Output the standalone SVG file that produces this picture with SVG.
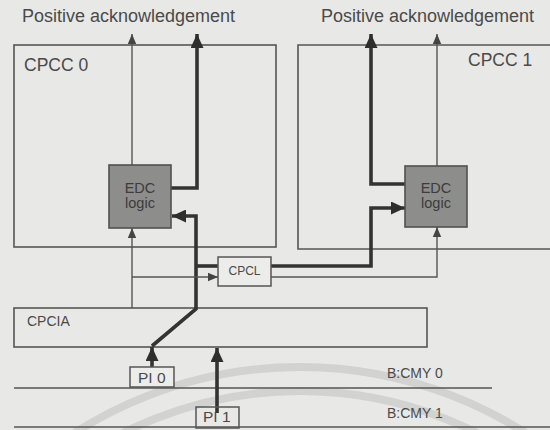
<svg xmlns="http://www.w3.org/2000/svg" width="550" height="430" viewBox="0 0 550 430">
  <style>
    .bg { fill: #e8e8e6; }
    .wm { fill: none; stroke: #d2d2d0; stroke-width: 8; }
    .box { fill: none; stroke: #555; stroke-width: 1.6; }
    .small { fill: #ececea; stroke: #555; stroke-width: 1.5; }
    .edc { fill: #8d8d8b; stroke: #505050; stroke-width: 1.6; }
    .bus { fill: none; stroke: #555; stroke-width: 1.6; }
    .thin { fill: none; stroke: #555; stroke-width: 1.4; }
    .thick { fill: none; stroke: #333; stroke-width: 3.6; }
    text { font-family: "Liberation Sans", Arial, sans-serif; fill: #4a4a4a; }
    .ack { font-size: 18px; }
    .cc { font-size: 17.5px; }
    .lbl { font-size: 14px; }
    .cpcl { font-size: 12px; text-anchor: middle; }
    .pi { font-size: 15.5px; }
    .edct { font-size: 14.5px; fill: #3c3c3c; text-anchor: middle; }
  </style>
  <defs>
    <marker id="ah-thin" markerUnits="userSpaceOnUse" markerWidth="10" markerHeight="10" viewBox="0 0 10 10" refX="10" refY="5" orient="auto">
      <path d="M0,0.8 L10,5 L0,9.2 Z" fill="#444"/>
    </marker>
    <marker id="ah-thick" markerUnits="userSpaceOnUse" markerWidth="14" markerHeight="13" viewBox="0 0 14 13" refX="14" refY="6.5" orient="auto">
      <path d="M0,0 L14,6.5 L0,13 Z" fill="#2e2e2e"/>
    </marker>
  </defs>

  <rect class="bg" x="0" y="0" width="550" height="430"/>

  <!-- faint background arcs -->
  <g id="arcs">
    <circle class="wm" cx="300" cy="785" r="418"/>
    <circle class="wm" cx="300" cy="785" r="394"/>
  </g>

  <text class="ack" x="22" y="22">Positive acknowledgement</text>
  <text class="ack" x="321" y="22">Positive acknowledgement</text>

  <g id="cpcc0">
    <rect class="box" x="14" y="45" width="262" height="202"/>
    <text class="cc" x="24" y="71">CPCC 0</text>
  </g>

  <g id="cpcc1">
    <path class="box" d="M560,45 H298 V249 H560"/>
    <text class="cc" x="468" y="66">CPCC 1</text>
  </g>

  <g id="cpcia">
    <rect class="box" x="14" y="308" width="413" height="39"/>
    <text class="lbl" x="27" y="326">CPCIA</text>
  </g>

  <g id="bus0">
    <line class="bus" x1="14" y1="388" x2="492" y2="388"/>
    <text class="lbl" x="387" y="378">B:CMY 0</text>
  </g>

  <g id="bus1">
    <line class="bus" x1="14" y1="427" x2="550" y2="427"/>
    <text class="lbl" x="387" y="418">B:CMY 1</text>
  </g>

  <g id="connectors">
    <!-- CPCC 0 outputs -->
    <path class="thin" d="M132,165 V34" marker-end="url(#ah-thin)"/>
    <path class="thick" d="M171,188 H197 V34" marker-end="url(#ah-thick)"/>
    <!-- CPCC 1 outputs -->
    <path class="thick" d="M405,184 H371 V34" marker-end="url(#ah-thick)"/>
    <path class="thin" d="M437,166 V34" marker-end="url(#ah-thin)"/>
    <!-- thick path from PI 0 through CPCIA -->
    <path class="thick" d="M152,346 L196,309 V216 H172" marker-end="url(#ah-thick)"/>
    <path class="thick" d="M196,266 H218"/>
    <path class="thick" d="M271,266 H371 V208 H405" marker-end="url(#ah-thick)"/>
    <!-- thin path from CPCIA -->
    <path class="thin" d="M132,308 V228" marker-end="url(#ah-thin)"/>
    <path class="thin" d="M132,277 H218" marker-end="url(#ah-thin)"/>
    <path class="thin" d="M271,277 H437 V227" marker-end="url(#ah-thin)"/>
    <!-- PI inputs -->
    <path class="thick" d="M152,370 V347" marker-end="url(#ah-thick)"/>
    <path class="thick" d="M217,413 V348" marker-end="url(#ah-thick)"/>
  </g>

  <g id="edc0">
    <rect class="edc" x="109" y="165" width="62" height="63"/>
    <text class="edct" x="140" y="193">EDC</text>
    <text class="edct" x="140" y="208">logic</text>
  </g>

  <g id="edc1">
    <rect class="edc" x="405" y="166" width="62" height="61"/>
    <text class="edct" x="436" y="193">EDC</text>
    <text class="edct" x="436" y="208">logic</text>
  </g>

  <g id="cpcl">
    <rect class="small" x="218" y="257" width="53" height="29"/>
    <text class="cpcl" x="244.5" y="275">CPCL</text>
  </g>

  <g id="pi0">
    <rect class="small" x="130" y="367" width="44" height="20"/>
    <text class="pi" x="138" y="383">PI 0</text>
  </g>

  <g id="pi1">
    <rect class="small" x="196" y="407" width="43" height="21" fill-opacity="0"/>
    <text class="pi" x="203" y="422">PI 1</text>
  </g>
</svg>
